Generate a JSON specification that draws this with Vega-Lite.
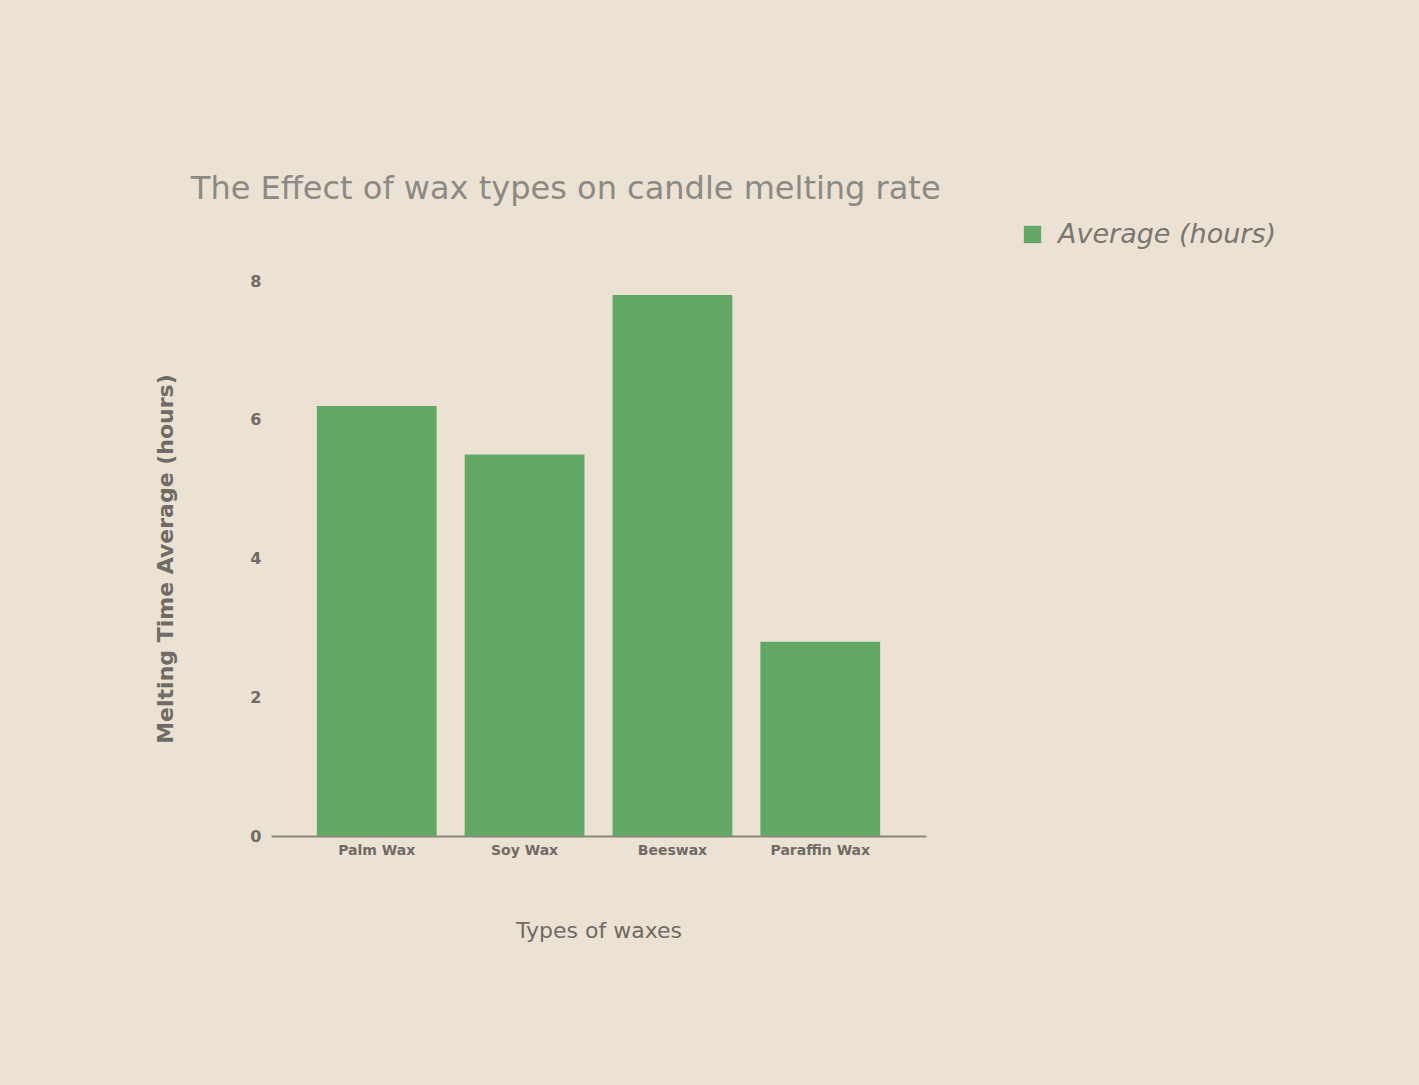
{
  "$schema": "https://vega.github.io/schema/vega-lite/v6.json",
  "width": 655,
  "height": 555,
  "padding": {"left": 154, "top": 173, "right": 143, "bottom": 145},
  "background": "#ebe2d3",
  "config": {
    "font": "DejaVu Sans",
    "view": {"stroke": null}
  },
  "title": {
    "text": "The Effect of wax types on candle melting rate",
    "anchor": "start",
    "dx": 36,
    "offset": 15,
    "fontSize": 32,
    "fontWeight": "normal",
    "color": "#8c8a85"
  },
  "data": {
    "values": [
      {"wax": "Palm Wax", "hours": 6.2, "series": "Average (hours)"},
      {"wax": "Soy Wax", "hours": 5.5, "series": "Average (hours)"},
      {"wax": "Beeswax", "hours": 7.8, "series": "Average (hours)"},
      {"wax": "Paraffin Wax", "hours": 2.8, "series": "Average (hours)"}
    ]
  },
  "mark": {"type": "bar"},
  "encoding": {
    "x": {
      "field": "wax",
      "type": "nominal",
      "sort": null,
      "scale": {"paddingInner": 0.19, "paddingOuter": 0.31},
      "axis": {
        "title": "Types of waxes",
        "titleFontSize": 22,
        "titleFontWeight": "normal",
        "titleColor": "#6f6b66",
        "titlePadding": 63,
        "labelAngle": 0,
        "labelFontSize": 14,
        "labelFontWeight": "bold",
        "labelColor": "#6f6b66",
        "ticks": false,
        "domainColor": "#8a8680",
        "domainWidth": 2,
        "labelPadding": 7
      }
    },
    "y": {
      "field": "hours",
      "type": "quantitative",
      "scale": {"domain": [0, 8]},
      "axis": {
        "title": "Melting Time Average (hours)",
        "titleFontSize": 22,
        "titleFontWeight": "bold",
        "titleColor": "#6f6b66",
        "titlePadding": 72,
        "values": [0, 2, 4, 6, 8],
        "grid": false,
        "domain": false,
        "ticks": false,
        "labelFontSize": 16,
        "labelFontWeight": "bold",
        "labelColor": "#6f6b66",
        "labelPadding": 10
      }
    },
    "color": {
      "field": "series",
      "type": "nominal",
      "scale": {"range": ["#62a864"]},
      "legend": {
        "title": null,
        "orient": "none",
        "legendX": 748,
        "legendY": -60,
        "symbolType": "square",
        "symbolSize": 300,
        "labelFontSize": 27,
        "labelFontStyle": "italic",
        "labelColor": "#7a7670",
        "labelOffset": 12,
        "labelLimit": 400
      }
    }
  }
}
